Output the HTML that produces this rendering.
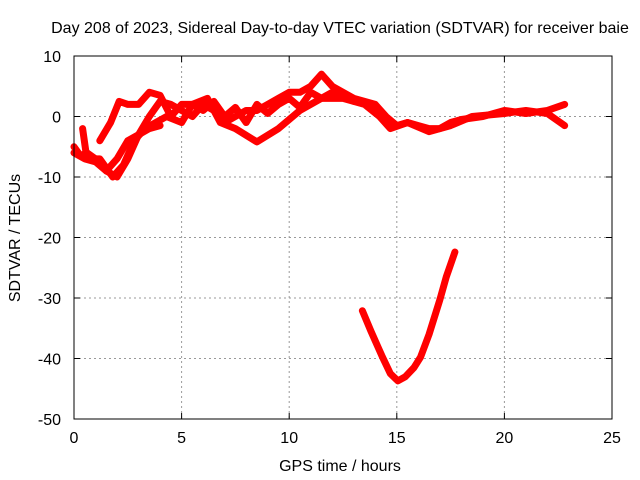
<!DOCTYPE html>
<html><head><meta charset="utf-8"><style>
body{margin:0;background:#fff;}
svg{display:block;font-family:"Liberation Sans",sans-serif;}
</style></head><body>
<svg id="chart" width="640" height="480">
<text x="340" y="33" font-size="16" text-anchor="middle">Day 208 of 2023, Sidereal Day-to-day VTEC variation (SDTVAR) for receiver baie</text>
<text x="340" y="471" font-size="16" text-anchor="middle">GPS time / hours</text>
<text transform="translate(20,238) rotate(-90)" font-size="16" text-anchor="middle">SDTVAR / TECUs</text>
<g id="grid"></g><g id="ticks"></g><g id="series"></g>
<rect x="74" y="56" width="538" height="363" fill="none" stroke="#000" stroke-width="1"/>
</svg>
<script>
const xTicks=[0,5,10,15,20,25];
const yTicks=[10,0,-10,-20,-30,-40,-50];
const track1Hours=[0,0.5,1,1.5,2,2.5,3,3.5,4,4.5,5,5.5,6,6.5,7,7.5,8,8.5,9,9.5,10,10.5,11,11.5,12,12.5,13,14,14.5,15,15.5,16,16.5,17,17.5,18,19,20,21,22,22.8];
const track1Vals=[-6,-7,-7.5,-9,-10,-7,-3,0,2.5,2,1,0,2,1,-1,0,1,1,2,3,4,4,5,7,5,4,3,2,0,-1.5,-1,-1.5,-2,-2,-1,-0.5,0,1,0.5,1,2];
const track2Hours=[0.4,0.6,1.2,1.8,2.3,2.8,3.3,3.8,4.3,5,5.5,6.2,6.8,7.5,8.5,9.5,10.5,11.5,12.5,13.5,14.2,14.7,15.5,16.5,17.5,18.5,20,21,22,22.8];
const track2Vals=[-2,-7,-7,-10,-8,-4,-2,-1,0,-1,2,3,-1,-2,-4.2,-2,1,3,3,2,0,-2,-1,-2.5,-1.5,0,0.5,1,0.5,-1.5];
const track3Hours=[1.2,1.7,2.1,2.5,3,3.5,4,4.5,5,5.5,6,6.5,7,7.5,8,8.5,9,9.5,10,10.5,11,11.5,12,12.5,13];
const track3Vals=[-4,-1,2.5,2,2,4,3.5,0,2,2,1,2.5,0,1.5,-1,2,0.5,2,3,1.5,4,3,4,3.5,2.5];
const track4Hours=[0,0.3,0.6,1,1.5,2,2.5,3,3.5,4];
const track4Vals=[-5,-6.5,-6,-7,-9,-7,-4,-3,-2,-1.5];
const vHours=[13.4,13.8,14.3,14.7,15.05,15.4,15.8,16.1,16.5,17.0,17.3,17.7];
const vVals=[-32.1,-35.5,-39.5,-42.5,-43.7,-43,-41.5,-39.8,-36,-30.3,-26.5,-22.4];
const X=h=>74+h*538/25, Y=v=>56+(10-v)*363/60;
const ns='http://www.w3.org/2000/svg';
const grid=document.getElementById('grid'),ticks=document.getElementById('ticks'),ser=document.getElementById('series');
function mk(tag,attrs,parent){const e=document.createElementNS(ns,tag);for(const k in attrs)e.setAttribute(k,attrs[k]);parent.appendChild(e);return e;}
xTicks.forEach(t=>{
 if(t>0&&t<25){const g=mk('line',{x1:X(t),x2:X(t),y1:56,y2:419,stroke:'#999','stroke-dasharray':'2,3'},grid);
 
 }
 mk('line',{x1:X(t),x2:X(t),y1:419,y2:413,stroke:'#000'},ticks);
 mk('line',{x1:X(t),x2:X(t),y1:56,y2:62,stroke:'#000'},ticks);
 const l=mk('text',{x:X(t),y:443,'font-size':16,'text-anchor':'middle'},ticks);l.textContent=t;
 
 
});
yTicks.forEach(t=>{
 if(t<10&&t>-50){const g=mk('line',{x1:74,x2:612,y1:Y(t),y2:Y(t),stroke:'#999','stroke-dasharray':'2,3'},grid);
 
 }
 mk('line',{x1:74,x2:80,y1:Y(t),y2:Y(t),stroke:'#000'},ticks);
 mk('line',{x1:612,x2:606,y1:Y(t),y2:Y(t),stroke:'#000'},ticks);
 const l=mk('text',{x:61,y:Y(t)+6,'font-size':16,'text-anchor':'end'},ticks);l.textContent=t;
 
 
});
function draw(hs,vs,name){
 const p=mk('polyline',{points:hs.map((h,i)=>X(h)+','+Y(vs[i])).join(' '),fill:'none',stroke:'#f00','stroke-width':7,'stroke-linejoin':'round','stroke-linecap':'round'},ser);
 
 
}
draw(track1Hours,track1Vals,'sdtvar-track-1');
draw(track2Hours,track2Vals,'sdtvar-track-2');
draw(track3Hours,track3Vals,'sdtvar-track-3');
draw(track4Hours,track4Vals,'sdtvar-track-4');
draw(vHours,vVals,'sdtvar-dip-track');
</script>
</body></html>
